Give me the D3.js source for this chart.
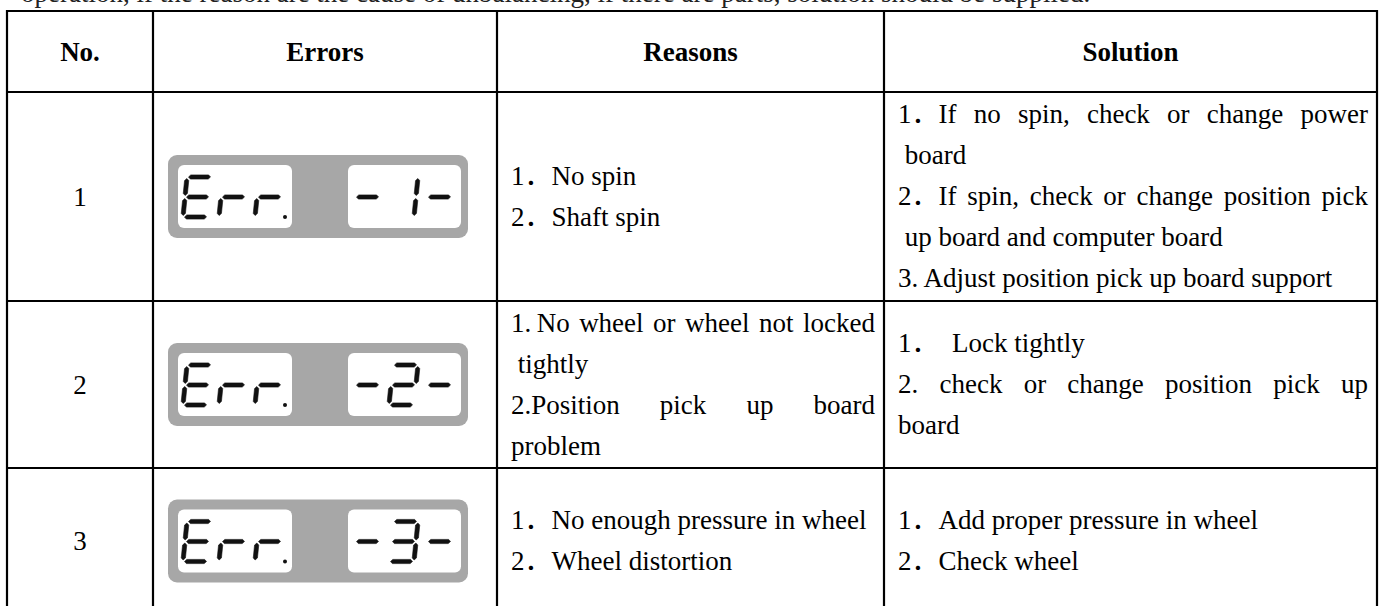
<!DOCTYPE html>
<html><head><meta charset="utf-8">
<script src="https://cdn.jsdelivr.net/npm/d3@7"></script>
<style>html,body{margin:0;padding:0;background:#fff;overflow:hidden}</style>
</head><body><svg id="c" width="1384" height="606"></svg>
<script>
// ---------- data ----------
const topLine = "operation, if the reason are the cause of unbalancing, if there are parts, solution should be supplied.";
const headers = ["No.", "Errors", "Reasons", "Solution"];
const rowNumbers = ["1", "2", "3"];
const errorPrefix = "Err.";
const errorCodes = ["-1-", "-2-", "-3-"];
// each cell: list of paragraphs, each paragraph: its wrapped lines
const reasons = [
  [["1．No spin"], ["2．Shaft spin"]],
  [["1.\u2009No wheel or wheel not locked", " tightly"], ["2.Position pick up board", "problem"]],
  [["1．No enough pressure in wheel"], ["2．Wheel distortion"]]
];
const solutions = [
  [["1．If no spin, check or change power", " board"],
   ["2．If spin, check or change position pick", " up board and computer board"],
   ["3. Adjust position pick up board support"]],
  [["1．  Lock tightly"], ["2. check or change position pick up", "board"]],
  [["1．Add proper pressure in wheel"], ["2．Check wheel"]]
];
const segmentMap = {"E": "adefg", "r": "eg", "-": "g", "1": "bc", "2": "abged", "3": "abgcd"};

// ---------- layout ----------
const W = 1384, H = 606;
const FONT = '"Liberation Serif","Times New Roman","Noto Sans CJK SC",serif';
const FS = 27, LH = 41, PAD = 14;
const colX = [7, 153, 497, 884, 1377];
const rowY = [11, 92, 301, 468, 614];
const svg = d3.select("#c");

const rowScale = d3.scaleOrdinal().domain(d3.range(rowY.length)).range(rowY);
const colScale = d3.scaleOrdinal().domain(d3.range(colX.length)).range(colX);

// top partial line (cut by the page edge, as in the reference)
svg.append("text").attr("x", 21).attr("y", 1.5)
  .attr("font-family", FONT).attr("font-size", FS).attr("fill", "#222")
  .text(topLine);

// headers
svg.selectAll("text.hdr").data(headers).join("text").attr("class", "hdr")
  .attr("x", (d, i) => (colScale(i) + colScale(i + 1)) / 2)
  .attr("y", (rowScale(0) + rowScale(1)) / 2 + 9)
  .attr("text-anchor", "middle").attr("font-family", FONT)
  .attr("font-weight", "bold").attr("font-size", 27).attr("fill", "#000")
  .text(d => d);

const rowCenter = i => (rowScale(i + 1) + rowScale(i + 2)) / 2;

// row numbers
svg.selectAll("text.num").data(rowNumbers).join("text").attr("class", "num")
  .attr("x", (colScale(0) + colScale(1)) / 2)
  .attr("y", (d, i) => rowCenter(i) + 9)
  .attr("text-anchor", "middle").attr("font-family", FONT)
  .attr("font-size", FS).attr("fill", "#000").text(d => d);

// measuring helper
const meas = svg.append("text").attr("font-family", FONT).attr("font-size", FS)
  .style("white-space", "pre").attr("visibility", "hidden");
function textWidth(s) { meas.text(s); return meas.node().getComputedTextLength(); }

function drawCell(paragraphs, ci, ri) {
  const x0 = colScale(ci) + PAD, x1 = colScale(ci + 1) - 9;
  const lines = [];
  paragraphs.forEach(p => p.forEach((l, k) => lines.push({text: l, just: k < p.length - 1})));
  const n = lines.length;
  const y0 = rowCenter(ri) - (n - 1) / 2 * LH + FS * 0.33;
  const g = svg.append("g").attr("font-family", FONT).attr("font-size", FS).attr("fill", "#000");
  lines.forEach((ln, k) => {
    const y = y0 + k * LH;
    const t = g.append("text").attr("y", y).style("white-space", "pre");
    if (ln.just) {
      const words = ln.text.split(" ").filter(w => w.length);
      const widths = words.map(textWidth);
      const total = d3.sum(widths);
      const gap = (x1 - x0 - total) / (words.length - 1);
      let x = x0;
      words.forEach((w, j) => {
        t.append("tspan").attr("x", x).text(w);
        x += widths[j] + gap;
      });
    } else {
      t.attr("x", x0).text(ln.text);
    }
  });
}
reasons.forEach((c, i) => drawCell(c, 2, i));
solutions.forEach((c, i) => drawCell(c, 3, i));

// LCD displays
const lcdW = 300, lcdH = 83;
const dig = {w: 25, h: 40, s: 4, top: 22, gap: 1.5, t: 4.2};
function segPath(ch, cx, cy) {
  const {w, h, s, gap, t} = dig;
  const P = (x, y) => [cx + x + s * (1 - y / h), cy + y];
  const segs = {
    a: [[gap, 0], [w - gap, 0]], b: [[w, gap], [w, h / 2 - gap]], c: [[w, h / 2 + gap], [w, h - gap]],
    d: [[gap, h], [w - gap, h]], e: [[0, h / 2 + gap], [0, h - gap]], f: [[0, gap], [0, h / 2 - gap]],
    g: [[gap, h / 2], [w - gap, h / 2]]
  };
  return (segmentMap[ch] || "").split("").map(k => {
    const [[x1, y1], [x2, y2]] = segs[k];
    const len = Math.hypot(x2 - x1, y2 - y1);
    const ux = (x2 - x1) / len, uy = (y2 - y1) / len;
    const nx = -uy, ny = ux, hh = t / 2;
    const pts = [
      [x1, y1],
      [x1 + ux * hh + nx * hh, y1 + uy * hh + ny * hh],
      [x2 - ux * hh + nx * hh, y2 - uy * hh + ny * hh],
      [x2, y2],
      [x2 - ux * hh - nx * hh, y2 - uy * hh - ny * hh],
      [x1 + ux * hh - nx * hh, y1 + uy * hh - ny * hh]
    ].map(p => P(p[0], p[1]));
    return "M" + pts.join("L") + "Z";
  }).join("");
}
errorCodes.forEach((code, i) => {
  const g = svg.append("g").attr("transform", `translate(168,${rowCenter(i) - lcdH / 2})`);
  g.append("title").text(errorPrefix + " " + code);
  g.append("rect").attr("width", lcdW).attr("height", lcdH).attr("rx", 9).attr("fill", "#a7a7a7");
  g.append("rect").attr("x", 10).attr("y", 10).attr("width", 114).attr("height", 63).attr("rx", 6).attr("fill", "#fff");
  g.append("rect").attr("x", 180).attr("y", 10).attr("width", 113).attr("height", 63).attr("rx", 6).attr("fill", "#fff");
  const chars = [...errorPrefix.replace(".", "")].map((c, j) => ({c, x: 15 + j * 36}))
    .concat([...code].map((c, j) => ({c, x: 185 + j * 36})));
  g.selectAll("path").data(chars).join("path")
    .attr("d", d => segPath(d.c, d.x, dig.top))
    .attr("fill", "#111").attr("stroke", "#111").attr("stroke-width", 0.6).attr("stroke-linejoin", "round");
  g.append("circle").attr("cx", 15 + 2 * 36 + dig.w + 5).attr("cy", dig.top + dig.h).attr("r", 2).attr("fill", "#111");
});

// grid lines
const grid = svg.append("g").attr("stroke", "#000").attr("stroke-width", 2.2);
grid.selectAll("line.h").data(rowY.slice(0, 4)).join("line")
  .attr("x1", colScale(0) - 1).attr("x2", colScale(4) + 1).attr("y1", d => d).attr("y2", d => d);
grid.selectAll("line.v").data(colX).join("line")
  .attr("x1", d => d).attr("x2", d => d).attr("y1", rowScale(0) - 1).attr("y2", H + 5);
</script></body></html>
